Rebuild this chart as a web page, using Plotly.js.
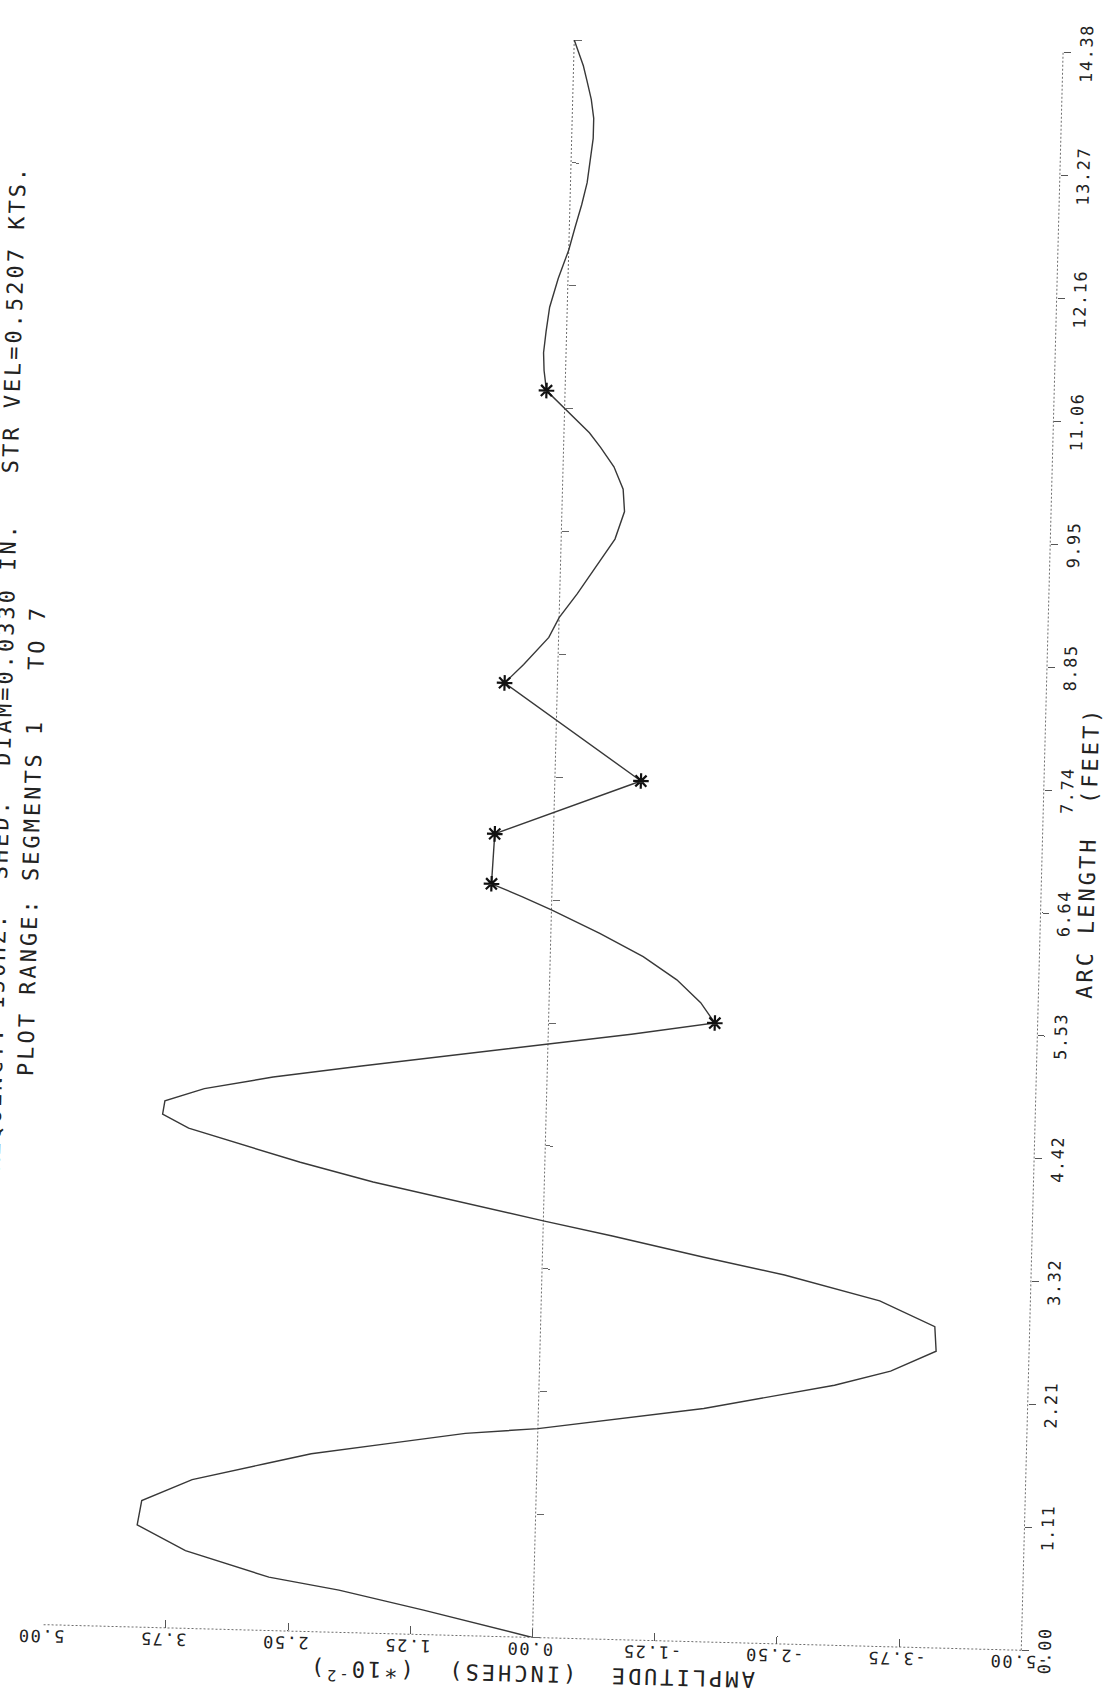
<!DOCTYPE html>
<html>
<head>
<meta charset="utf-8">
<script src="https://cdn.plot.ly/plotly-3.0.1.min.js"></script>
<style>
html,body{margin:0;padding:0;background:#fff;overflow:hidden;width:1107px;height:1697px;position:relative}
#wrap{position:absolute;left:-58.58px;top:1722.35px;width:1800px;height:1180px;transform-origin:0 0;transform:rotate(-88.5deg)}
.annotation-text,.xtitle,.ytitle{letter-spacing:3px}
.xtick text,.ytick text{letter-spacing:1.5px}
</style>
</head>
<body>
<div id="wrap"><div id="chart"></div></div>
<script>
// Arc length along the cable (feet) and lateral amplitude (inches x 1e-2)
const arcFt = [0, 0.22, 0.38, 0.48, 0.70, 0.92, 1.14, 1.34, 1.50, 1.60,
  1.71, 1.82, 1.88, 2.10, 2.34, 2.48, 2.67, 2.89, 3.11, 3.32,
  3.46, 3.63, 3.75, 3.90, 4.06, 4.22, 4.38, 4.50, 4.62, 4.74,
  4.86, 4.98, 5.10, 5.22, 5.34, 5.45, 5.57, 5.75, 5.95, 6.15,
  6.35, 6.55, 6.66, 6.77, 7.22, 7.73, 8.58, 8.75, 9.00, 9.18,
  9.40, 9.67, 9.90, 10.15, 10.35, 10.55, 10.72, 10.85, 11.00, 11.07,
  11.22, 11.40, 11.56, 11.75, 11.97, 12.23, 12.49, 12.70, 12.90, 13.10,
  13.32, 13.50, 13.68, 13.85, 14.02, 14.15, 14.38];
const ampIn = [0, 1.12, 1.99, 2.71, 3.57, 4.07, 4.03, 3.52, 2.78, 2.31,
  1.53, 0.74, 0, -1.69, -3.02, -3.59, -4.05, -4.03, -3.46, -2.48,
  -1.65, -0.71, 0, 0.85, 1.75, 2.50, 3.15, 3.65, 3.92, 3.90,
  3.50, 2.80, 1.90, 0.95, 0, -0.85, -1.70, -1.55, -1.30, -0.95,
  -0.50, 0, 0.30, 0.62, 0.60, -0.88, 0.54, 0.35, 0.10, 0,
  -0.18, -0.38, -0.55, -0.64, -0.62, -0.52, -0.38, -0.26, -0.08, 0,
  0.19, 0.22, 0.23, 0.21, 0.18, 0.10, 0, -0.06, -0.12, -0.17,
  -0.20, -0.22, -0.22, -0.19, -0.14, -0.10, 0];
// segment junctions (asterisks)
const nodeArc = [5.57, 6.77, 7.22, 7.73, 8.58, 11.22];
const nodeAmp = [-1.70, 0.62, 0.60, -0.88, 0.54, 0.19];
// tick labels
const arcTicks = [0, 1.106, 2.212, 3.318, 4.425, 5.531, 6.637, 7.743, 8.849, 9.955, 11.062, 12.168, 13.274, 14.38];
const arcTickText = ['0.00','1.11','2.21','3.32','4.42','5.53','6.64','7.74','8.85','9.95','11.06','12.16','13.27','14.38'];
const ampTicks = [-5, -3.75, -2.5, -1.25, 0, 1.25, 2.5, 3.75, 5];
const ampTickText = ['-5.00','-3.75','-2.50','-1.25','0.00','1.25','2.50','3.75','5.00'];
const titleLine1 = 'VIB. FREQUENCY: 150HZ.  SHED.  DIAM=0.0330 IN.   STR VEL=0.5207 KTS.';
const titleLine2 = 'PLOT RANGE: SEGMENTS 1   TO 7';
const xTitle = 'ARC LENGTH  (FEET)';
const yTitle = 'AMPLITUDE  (INCHES)  (*10<sup>-2</sup>)';

const nb = s => s.replace(/ /g, '\u00a0');
const ink = '#222';
const axisInk = '#6e6e6e';

const traces = [
  {x: arcFt, y: ampIn, mode: 'lines', line: {color: '#383838', width: 1.4}, hoverinfo: 'skip'},
  {x: nodeArc, y: nodeAmp, mode: 'markers',
   marker: {symbol: 'asterisk-open', size: 13, color: '#111', line: {width: 2.2, color: '#111'}}},
  {x: [], y: [], xaxis: 'x2', mode: 'lines'}
];

const dotted = {color: axisInk, width: 1, dash: '2px,2px'};

const layout = {
  width: 1800, height: 1180,
  margin: {l: 100, r: 102, t: 100, b: 102},
  paper_bgcolor: '#fff', plot_bgcolor: 'rgba(0,0,0,0)',
  showlegend: false,
  font: {family: 'DejaVu Sans Mono', color: ink},
  xaxis: {
    range: [0, 14.38], tickvals: arcTicks, ticktext: arcTickText,
    ticks: 'outside', ticklen: 7, tickcolor: '#555', tickwidth: 1,
    showline: false, showgrid: false, zeroline: false,
    tickfont: {size: 17, color: ink}, ticklabelstandoff: 1,
    title: {text: nb(xTitle), font: {size: 22, color: ink}, standoff: 0}
  },
  yaxis: {
    range: [-5, 5], tickvals: ampTicks, ticktext: ampTickText, tickangle: -90,
    ticks: 'inside', ticklen: 8, tickcolor: '#555', tickwidth: 1,
    showline: false, showgrid: false, zeroline: false,
    tickfont: {size: 17, color: ink}, ticklabelstandoff: 1,
    title: {text: nb(yTitle), font: {size: 22, color: ink}, standoff: 0}
  },
  xaxis2: {
    overlaying: 'x', anchor: 'free', position: 0.5, range: [0, 14.38],
    tickvals: arcTicks, ticks: 'outside', ticklen: 7, tickcolor: '#666',
    showticklabels: false, showline: false, showgrid: false, zeroline: false
  },
  shapes: [
    {type: 'line', xref: 'x domain', yref: 'y domain', x0: 0, x1: 1, y0: 0, y1: 0, line: dotted, layer: 'below'},
    {type: 'line', xref: 'x domain', yref: 'y domain', x0: 0, x1: 0, y0: 0, y1: 1, line: dotted, layer: 'below'},
    {type: 'line', xref: 'x domain', yref: 'y', x0: 0, x1: 1, y0: 0, y1: 0, line: dotted, layer: 'below'}
  ],
  annotations: [
    {text: nb(titleLine1), xref: 'paper', yref: 'paper', x: 0.914, y: 1.065,
     xanchor: 'right', yanchor: 'middle', showarrow: false, font: {size: 22, color: ink}},
    {text: nb(titleLine2), xref: 'paper', yref: 'paper', x: 0.639, y: 1.0333,
     xanchor: 'right', yanchor: 'middle', showarrow: false, font: {size: 22, color: ink}}
  ]
};

Plotly.newPlot('chart', traces, layout, {staticPlot: true, displayModeBar: false});
</script>
</body>
</html>
